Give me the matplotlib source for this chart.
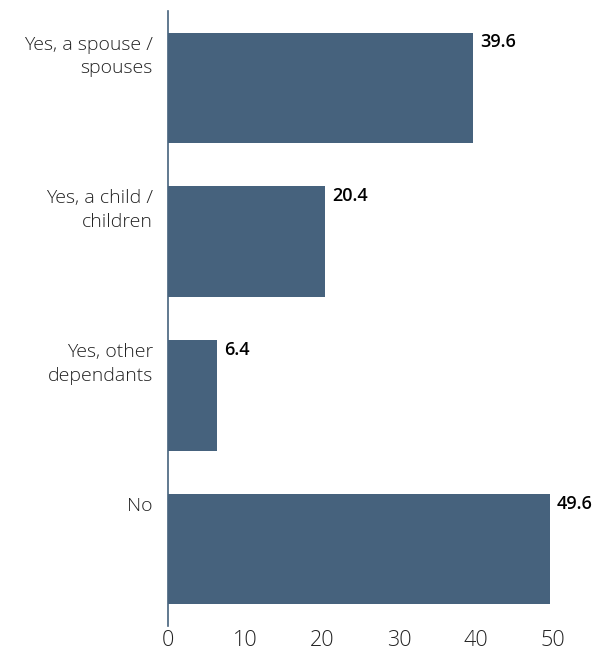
import matplotlib
matplotlib.use("Agg")
import matplotlib.pyplot as plt

categories = ["Yes, a spouse /\nspouses", "Yes, a child /\nchildren", "Yes, other\ndependants", "No"]
values = [39.6, 20.4, 6.4, 49.6]
xticks = [0, 10, 20, 30, 40, 50]

bar_color = "#46627d"
plt.rcParams['font.family'] = ['Open Sans', 'DejaVu Sans']

fig = plt.figure(figsize=(6.05, 6.52), dpi=100)
ax = fig.add_axes([168 / 605, 1 - 626 / 652, (553 - 168) / 605, (626 - 11) / 652])

h = 0.72
pos = list(range(len(categories)))
ax.barh(pos, values, height=h, color=bar_color)
ax.set_ylim(3.5, -0.5)
ax.set_xlim(0, 50)

for p, v in zip(pos, values):
    ax.text(v + 0.9, p - h / 2 + 0.005, f"{v:.1f}", va='top', ha='left',
            fontsize=13, fontweight='semibold', color='black')

ax.set_yticks([p - h / 2 + 0.02 for p in pos])
ax.set_yticklabels(categories, fontsize=14, color='#222222', ha='right', va='top',
                   linespacing=1.42, fontweight='light')
ax.set_xticks(xticks)
ax.set_xticklabels([str(t) for t in xticks], fontsize=15.5, color='#222222', fontweight='light')
ax.tick_params(axis='y', length=0, pad=11)
ax.tick_params(axis='x', length=0, pad=3)

for s in ['top', 'right', 'bottom']:
    ax.spines[s].set_visible(False)
ax.spines['left'].set_color(bar_color)
ax.spines['left'].set_linewidth(1.2)

fig.savefig("out.png", dpi=100)
